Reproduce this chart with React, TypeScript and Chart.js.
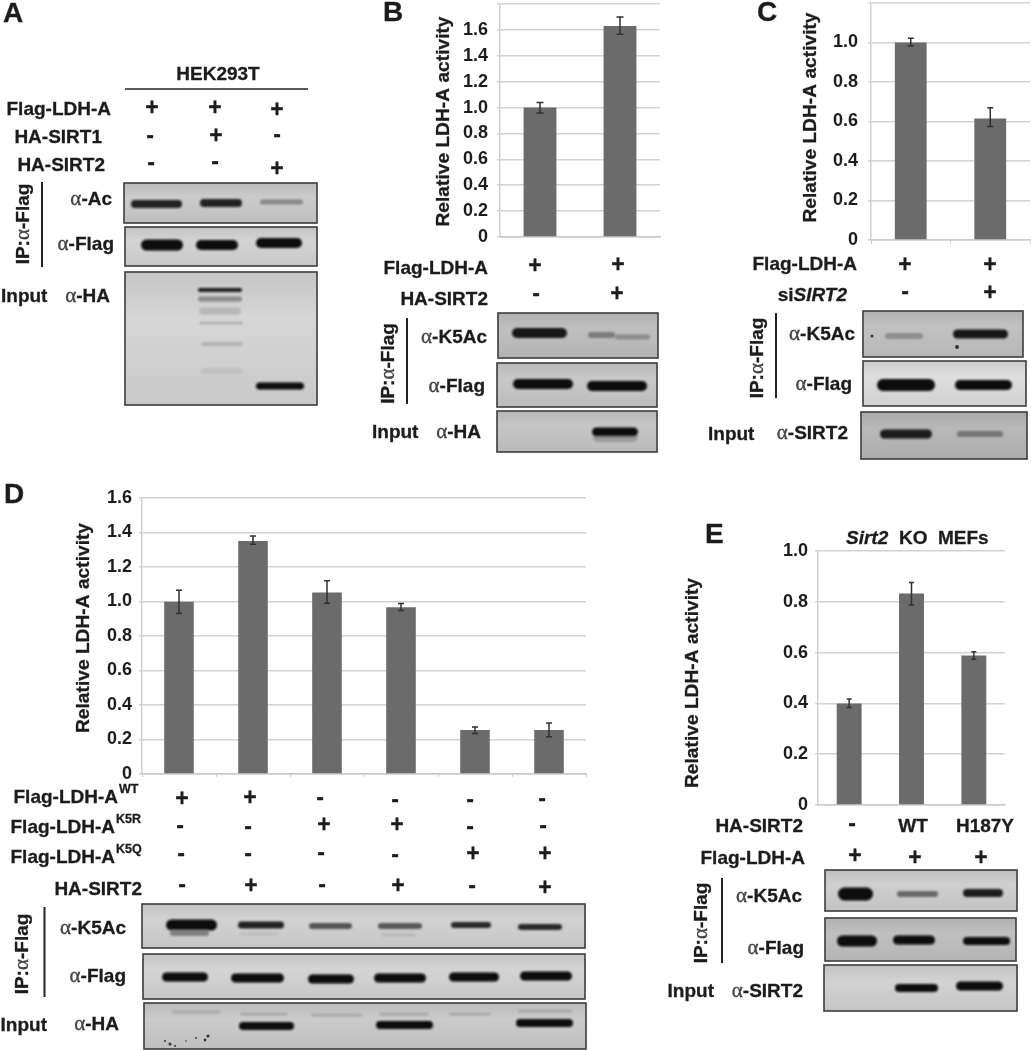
import React, { useEffect, useRef } from "react";
import { Chart, registerables } from "chart.js";

Chart.register(...registerables);

// ---------- chart data ----------
const bCategories = ["Flag-LDH-A", "Flag-LDH-A + HA-SIRT2"];
const bValues = [1.0, 1.63];
const bErrLow = [0.957, 1.566];
const bErrHigh = [1.04, 1.7];

const cCategories = ["Flag-LDH-A", "Flag-LDH-A + siSIRT2"];
const cValues = [1.0, 0.615];
const cErrLow = [0.983, 0.575];
const cErrHigh = [1.022, 0.669];

const dCategories = ["WT", "WT + SIRT2", "K5R", "K5R + SIRT2", "K5Q", "K5Q + SIRT2"];
const dValues = [0.998, 1.351, 1.052, 0.967, 0.255, 0.255];
const dErrLow = [0.93, 1.332, 0.99, 0.948, 0.235, 0.216];
const dErrHigh = [1.065, 1.38, 1.12, 0.988, 0.272, 0.295];

const eCategories = ["-", "WT", "H187Y"];
const eValues = [0.4, 0.833, 0.589];
const eErrLow = [0.384, 0.787, 0.574];
const eErrHigh = [0.417, 0.876, 0.603];

const yAxisTitle = "Relative LDH-A activity";

// ---------- chart layouts ----------
type Panel = {
  categories: string[]; values: number[]; low: number[]; high: number[]; max: number; hideTop: boolean;
  left: number; top: number; w: number; h: number;
  plotL: number; plotR: number; plotT: number; plotB: number;
  barPct: number; xTick: number; tickPad: number; titleX: number; titleY: number; cap: number;
};

const panels: Panel[] = [
  { categories: bCategories, values: bValues, low: bErrLow, high: bErrHigh, max: 1.8, hideTop: true,
    left: 425, top: 0, w: 240, h: 245, plotL: 75, plotR: 235, plotT: 4, plotB: 237, barPct: 0.41, xTick: 0, tickPad: 9, titleX: 19, titleY: 121.5, cap: 3.5 },
  { categories: cCategories, values: cValues, low: cErrLow, high: cErrHigh, max: 1.2, hideTop: true,
    left: 800, top: 0, w: 231, h: 250, plotL: 71, plotR: 230, plotT: 3, plotB: 240, barPct: 0.4, xTick: 4, tickPad: 10, titleX: 11, titleY: 117.5, cap: 3 },
  { categories: dCategories, values: dValues, low: dErrLow, high: dErrHigh, max: 1.6, hideTop: false,
    left: 60, top: 480, w: 535, h: 300, plotL: 82, plotR: 526, plotT: 18, plotB: 294, barPct: 0.4, xTick: 3, tickPad: 7, titleX: 24, titleY: 148, cap: 3 },
  { categories: eCategories, values: eValues, low: eErrLow, high: eErrHigh, max: 1.0, hideTop: false,
    left: 680, top: 540, w: 335, h: 272, plotL: 138, plotR: 325, plotT: 11, plotB: 265, barPct: 0.4, xTick: 0, tickPad: 7, titleX: 13, titleY: 143, cap: 2.5 },
];

const FONT = '"Liberation Sans", Arial, sans-serif';
const TXT = "#1c1c1c";

function makeChart(canvas: HTMLCanvasElement, p: Panel) {
  const overlay = {
    id: "errorBarsAndTitle",
    afterDatasetsDraw(chart: any) {
      const ctx = chart.ctx;
      const y = chart.scales.y;
      const meta = chart.getDatasetMeta(0);
      ctx.save();
      ctx.strokeStyle = "#303030";
      ctx.lineWidth = 1.5;
      meta.data.forEach((bar: any, i: number) => {
        const yl = y.getPixelForValue(p.low[i]);
        const yh = y.getPixelForValue(p.high[i]);
        ctx.beginPath();
        ctx.moveTo(bar.x, yl);
        ctx.lineTo(bar.x, yh);
        ctx.moveTo(bar.x - p.cap, yl);
        ctx.lineTo(bar.x + p.cap, yl);
        ctx.moveTo(bar.x - p.cap, yh);
        ctx.lineTo(bar.x + p.cap, yh);
        ctx.stroke();
      });
      ctx.translate(p.titleX, p.titleY);
      ctx.rotate(-Math.PI / 2);
      ctx.font = `bold 19.2px ${FONT}`;
      ctx.fillStyle = TXT;
      ctx.strokeStyle = TXT;
      ctx.lineWidth = 0.3;
      ctx.textAlign = "center";
      ctx.textBaseline = "middle";
      ctx.fillText(yAxisTitle, 0, 0);
      ctx.strokeText(yAxisTitle, 0, 0);
      ctx.restore();
    },
  };
  return new Chart(canvas, {
    type: "bar",
    data: {
      labels: p.categories,
      datasets: [{
        data: p.values,
        backgroundColor: "#6b6b6b",
        borderWidth: 0,
        categoryPercentage: 1,
        barPercentage: p.barPct,
      }],
    },
    plugins: [overlay],
    options: {
      animation: false,
      responsive: false,
      layout: { padding: { left: 0, top: p.plotT, right: p.w - p.plotR, bottom: 0 } },
      plugins: { legend: { display: false }, tooltip: { enabled: false } },
      scales: {
        x: {
          afterFit: (s: any) => { s.height = p.h - p.plotB; },
          ticks: { display: false },
          border: { color: "#c9c9c9", width: 1.5 },
          grid: { drawOnChartArea: false, drawTicks: p.xTick > 0, tickLength: p.xTick, tickColor: "#c9c9c9" },
        },
        y: {
          min: 0,
          max: p.max,
          afterFit: (s: any) => { s.width = p.plotL; s.paddingTop = 0; s.paddingBottom = 0; },
          border: { color: "#cfcfcf", width: 1.5 },
          grid: { color: "#d2d2d2", lineWidth: 1.5, tickLength: 3, tickColor: "#d2d2d2" },
          ticks: {
            stepSize: 0.2,
            autoSkip: false,
            padding: p.tickPad,
            color: TXT,
            font: { family: FONT, size: 18, weight: "bold" },
            callback: (v: any) => {
              const n = Number(v);
              if (p.hideTop && Math.abs(n - p.max) < 1e-6) return "";
              return Math.abs(n) < 1e-6 ? "0" : n.toFixed(1);
            },
          },
        },
      },
    },
  } as any);
}

function ChartCanvas({ p }: { p: Panel }) {
  const ref = useRef<HTMLCanvasElement>(null);
  useEffect(() => {
    const c = makeChart(ref.current!, p);
    return () => c.destroy();
  }, [p]);
  return (
    <canvas
      ref={ref}
      width={p.w}
      height={p.h}
      style={{ position: "absolute", left: p.left, top: p.top, width: p.w, height: p.h }}
    />
  );
}

// ---------- blots: [x1, x2, y, thickness, gray] ----------
type Band = [number, number, number, number, string];
type Blot = { x1: number; x2: number; y1: number; y2: number; bg: string; bands: Band[]; specks?: [number, number, number][] };

const blots: Blot[] = [
  { x1: 124, x2: 317, y1: 183, y2: 223, bg: "#cbcbcb", bands: [[131, 182, 204, 8, "#222"], [200, 242, 203, 8, "#222"], [260, 303, 202, 5, "#888"]] },
  { x1: 125, x2: 317, y1: 227, y2: 266, bg: "#d4d4d4", bands: [[141, 183, 245, 11, "#0c0c0c"], [196, 238, 245, 10, "#0c0c0c"], [256, 302, 243, 10, "#0c0c0c"]] },
  { x1: 125, x2: 317, y1: 272, y2: 405, bg: "#d6d6d6", bands: [[198, 242, 290, 4, "#222"], [198, 242, 299, 5, "#8c8c8c"], [199, 241, 311, 7, "#b8b8b8"], [199, 243, 323, 3, "#b4b4b4"], [201, 243, 344, 4, "#b2b2b2"], [201, 242, 371, 6, "#c0c0c0"], [256, 304, 386, 7, "#0c0c0c"]] },
  { x1: 498, x2: 658, y1: 313, y2: 358, bg: "#bfbfbf", bands: [[512, 567, 333, 10, "#151515"], [588, 615, 335, 6, "#7c7c7c"], [615, 650, 337, 5, "#8c8c8c"]] },
  { x1: 497, x2: 657, y1: 363, y2: 407, bg: "#c8c8c8", bands: [[513, 573, 384, 10, "#0a0a0a"], [587, 647, 386, 10, "#0a0a0a"]] },
  { x1: 497, x2: 657, y1: 411, y2: 452, bg: "#c6c6c6", bands: [[593, 638, 437, 10, "#9a9a9a"], [592, 638, 432, 9, "#0d0d0d"]] },
  { x1: 863, x2: 1023, y1: 311, y2: 357, bg: "#c2c2c2", bands: [[885, 923, 336, 6, "#8e8e8e"], [953, 1008, 334, 9, "#141414"]], specks: [[872, 336, 1.5], [957, 347, 2]] },
  { x1: 863, x2: 1026, y1: 361, y2: 406, bg: "#dedede", bands: [[877, 935, 385, 12, "#0a0a0a"], [955, 1012, 385, 10, "#0a0a0a"]] },
  { x1: 861, x2: 1027, y1: 412, y2: 459, bg: "#b8b8b8", bands: [[880, 932, 434, 9, "#1c1c1c"], [957, 1003, 434, 6, "#737373"]] },
  { x1: 142, x2: 585, y1: 904, y2: 948, bg: "#d2d2d2", bands: [[166, 217, 925, 11, "#0c0c0c"], [170, 209, 933, 6, "#808080"], [238, 284, 925, 7, "#222"], [240, 279, 934, 3, "#bcbcbc"], [309, 352, 926, 6, "#555"], [378, 422, 926, 6, "#585858"], [381, 416, 935, 4, "#bcbcbc"], [451, 491, 925, 6, "#2c2c2c"], [518, 562, 927, 6, "#2c2c2c"]] },
  { x1: 143, x2: 585, y1: 954, y2: 999, bg: "#d4d4d4", bands: [[162, 208, 977, 9, "#0c0c0c"], [231, 284, 978, 9, "#0c0c0c"], [308, 354, 979, 9, "#0c0c0c"], [374, 426, 978, 9, "#0c0c0c"], [449, 499, 977, 9, "#0c0c0c"], [520, 572, 976, 9, "#0c0c0c"]] },
  { x1: 144, x2: 586, y1: 1003, y2: 1049, bg: "#cbcbcb", bands: [[172, 220, 1012, 3, "#a8a8a8"], [240, 288, 1014, 3, "#a8a8a8"], [311, 362, 1015, 3, "#a8a8a8"], [379, 429, 1014, 3, "#a8a8a8"], [449, 491, 1014, 3, "#a8a8a8"], [518, 572, 1011, 3, "#a8a8a8"], [239, 294, 1026, 8, "#0e0e0e"], [376, 433, 1025, 8, "#0e0e0e"], [516, 573, 1023, 8, "#0e0e0e"]], specks: [[208, 1036, 1.6], [205, 1040, 1.4], [196, 1038, 0.9], [170, 1044, 1.5], [165, 1041, 1], [175, 1046, 1], [186, 1041, 0.8]] },
  { x1: 825, x2: 1017, y1: 870, y2: 911, bg: "#cfcfcf", bands: [[838, 873, 894, 13, "#0c0c0c"], [897, 938, 894, 6, "#686868"], [963, 1003, 893, 8, "#1c1c1c"]] },
  { x1: 825, x2: 1016, y1: 918, y2: 961, bg: "#c0c0c0", bands: [[837, 877, 941, 11, "#0a0a0a"], [893, 935, 940, 9, "#0a0a0a"], [963, 1010, 941, 8, "#0a0a0a"]] },
  { x1: 824, x2: 1017, y1: 965, y2: 1011, bg: "#d2d2d2", bands: [[895, 938, 988, 8, "#0e0e0e"], [956, 1003, 986, 9, "#0a0a0a"]] },
];

// ---------- treatment signs: [x, y, sign] ----------
const signs: [number, number, string][] = [
  [152, 107, "+"], [215, 107, "+"], [277, 109, "+"], [150, 137, "-"], [216, 135, "+"], [277, 136, "-"], [151, 164, "-"], [215, 163, "-"], [277, 168, "+"],
  [535, 265, "+"], [618, 264, "+"], [536, 295, "-"], [617, 293, "+"],
  [905, 264, "+"], [990, 264, "+"], [905, 293, "-"], [990, 292, "+"],
  [182, 798, "+"], [250, 797, "+"], [320, 799, "-"], [395, 801, "-"], [470, 801, "-"], [542, 800, "-"],
  [180, 827, "-"], [248, 828, "-"], [324, 824, "+"], [397, 824, "+"], [470, 828, "-"], [543, 827, "-"],
  [181, 855, "-"], [248, 855, "-"], [321, 854, "-"], [395, 856, "-"], [473, 853, "+"], [545, 853, "+"],
  [182, 886, "-"], [251, 885, "+"], [322, 886, "-"], [398, 885, "+"], [472, 887, "-"], [545, 887, "+"],
  [852, 825, "-"], [855, 855, "+"], [915, 857, "+"], [981, 857, "+"],
];

// ---------- labels: [x, baseline, anchor, text] ----------
const labels: [number, number, "start" | "middle" | "end", string][] = [
  [218, 80, "middle", "HEK293T"],
  [111, 115, "end", "Flag-LDH-A"], [102, 143, "end", "HA-SIRT1"], [105, 171, "end", "HA-SIRT2"],
  [1, 302, "start", "Input"],
  [488, 274, "end", "Flag-LDH-A"], [488, 305, "end", "HA-SIRT2"], [372, 438, "start", "Input"],
  [857, 270, "end", "Flag-LDH-A"], [708, 440, "start", "Input"],
  [118, 803, "end", "Flag-LDH-A"], [115, 833, "end", "Flag-LDH-A"], [115, 863, "end", "Flag-LDH-A"], [142, 895, "end", "HA-SIRT2"],
  [47, 1031, "end", "Input"],
  [803, 832, "end", "HA-SIRT2"], [913, 832, "middle", "WT"], [985, 832, "middle", "H187Y"], [805, 864, "end", "Flag-LDH-A"], [714, 997, "end", "Input"],
  [899, 544, "start", "KO"], [938, 544, "start", "MEFs"],
];

const antibodies: [number, number, string][] = [
  [112, 205, "Ac"], [114, 250, "Flag"], [110, 302, "HA"],
  [487, 343, "K5Ac"], [485, 392, "Flag"], [481, 438, "HA"],
  [855, 340, "K5Ac"], [852, 390, "Flag"], [848, 439, "SIRT2"],
  [126, 934, "K5Ac"], [126, 982, "Flag"], [119, 1030, "HA"],
  [802, 902, "K5Ac"], [804, 954, "Flag"], [803, 997, "SIRT2"],
];

const ipLabels: [number, number][] = [[29, 224], [394, 363.5], [763, 358], [28, 954], [707, 923]];
const ipLines: [number, number, number][] = [[42, 182, 267], [407, 318, 404], [776, 313, 398], [44.5, 907, 997], [722, 878, 963]];
const panelLetters: [number, number, string][] = [[3, 22, "A"], [383, 21, "B"], [757, 21, "C"], [4, 503, "D"], [705, 543, "E"]];
const superscripts: [number, number, string][] = [[119, 793, "WT"], [116, 823, "K5R"], [116, 853, "K5Q"]];

const alpha = (
  <tspan fontFamily='"Liberation Serif", serif' fontWeight="normal" fill="#4a4a4a" fontSize={21}>α</tspan>
);

function Overlay() {
  return (
    <svg width={1031} height={1050} style={{ position: "absolute", left: 0, top: 0 }} fontFamily={FONT} fontWeight="bold">
      <defs>
        <filter id="soft" x="-20%" y="-100%" width="140%" height="300%"><feGaussianBlur stdDeviation="1.2" /></filter>
        <linearGradient id="shade" x1="0" x2="0" y1="0" y2="1">
          <stop offset="0" stopColor="#000" stopOpacity="0.08" />
          <stop offset="0.35" stopColor="#000" stopOpacity="0" />
          <stop offset="1" stopColor="#000" stopOpacity="0.06" />
        </linearGradient>
      </defs>
      {blots.map((b, i) => (
        <g key={i}>
          <rect x={b.x1} y={b.y1} width={b.x2 - b.x1} height={b.y2 - b.y1} fill={b.bg} />
          <rect x={b.x1} y={b.y1} width={b.x2 - b.x1} height={b.y2 - b.y1} fill="url(#shade)" stroke="#3c3c3c" strokeWidth={1.6} />
          <g filter="url(#soft)">
            {b.bands.map((d, j) => (
              <rect key={j} x={d[0]} y={d[2] - d[3] / 2} width={d[1] - d[0]} height={d[3]} rx={d[3] / 2} fill={d[4]} />
            ))}
          </g>
          {b.specks?.map((s, j) => <circle key={j} cx={s[0]} cy={s[1]} r={s[2]} fill="#333" />)}
        </g>
      ))}
      <line x1={125} x2={308} y1={89} y2={89} stroke="#222" strokeWidth={1.6} />
      {ipLines.map((l, i) => <line key={i} x1={l[0]} x2={l[0]} y1={l[1]} y2={l[2]} stroke="#222" strokeWidth={2} />)}
      <g fill={TXT} stroke={TXT} strokeWidth={0.3}>
        {panelLetters.map((l, i) => <text key={i} x={l[0]} y={l[1]} fontSize={28}>{l[2]}</text>)}
        {labels.map((l, i) => <text key={i} x={l[0]} y={l[1]} textAnchor={l[2]} fontSize={19}>{l[3]}</text>)}
        {superscripts.map((l, i) => <text key={i} x={l[0]} y={l[1]} fontSize={12.5}>{l[2]}</text>)}
        {antibodies.map((l, i) => (
          <text key={i} x={l[0]} y={l[1]} textAnchor="end" fontSize={19}>{alpha}-{l[2]}</text>
        ))}
        {ipLabels.map((l, i) => (
          <text key={i} transform={`translate(${l[0]},${l[1]}) rotate(-90)`} textAnchor="middle" fontSize={19}>IP:{alpha}-Flag</text>
        ))}
        {signs.map((s, i) => (
          <text key={i} x={s[0]} y={s[1] + (s[2] === "+" ? 7.5 : 6)} textAnchor="middle" fontSize={23}>{s[2]}</text>
        ))}
        <text x={847} y={301} textAnchor="end" fontSize={19}>si<tspan fontStyle="italic">SIRT2</tspan></text>
        <text x={846} y={544} fontSize={19} fontStyle="italic">Sirt2</text>
      </g>
    </svg>
  );
}

export default function App() {
  return (
    <div style={{ position: "absolute", left: 0, top: 0, width: 1031, height: 1050, background: "#fff", overflow: "hidden", filter: "blur(0.35px)" }}>
      {panels.map((p, i) => <ChartCanvas key={i} p={p} />)}
      <Overlay />
    </div>
  );
}
